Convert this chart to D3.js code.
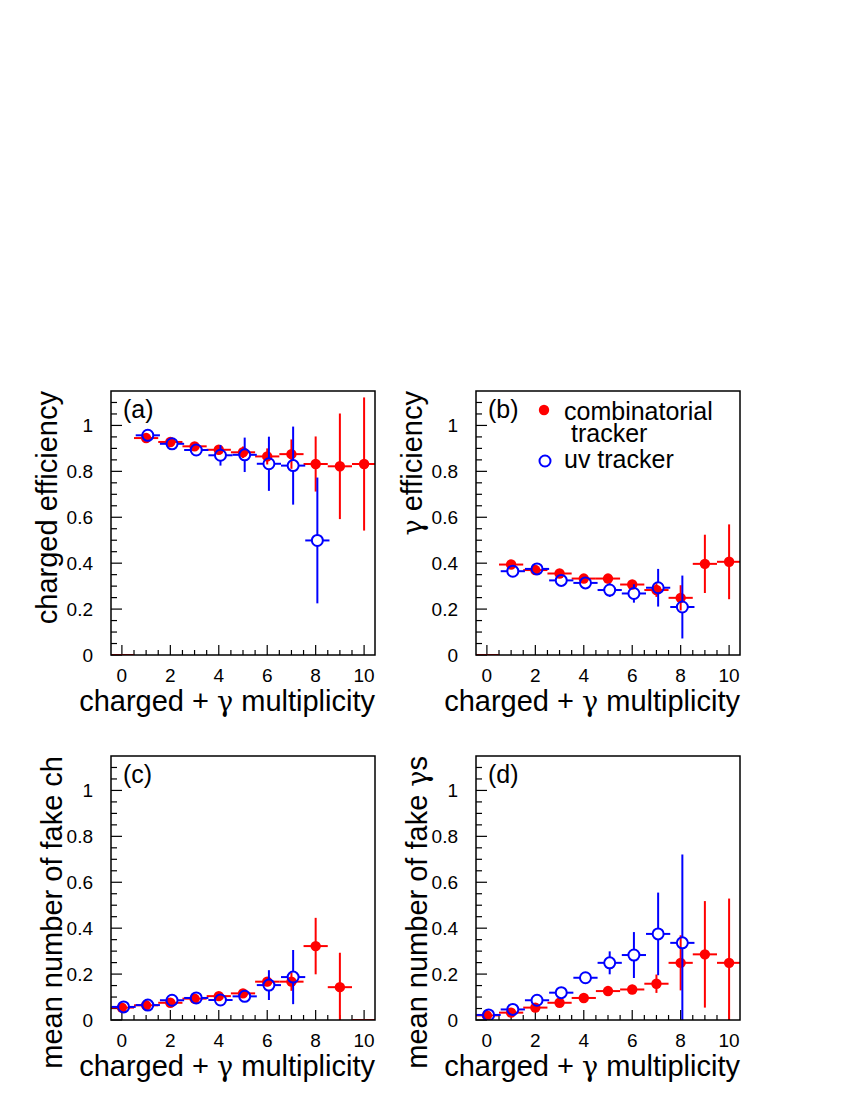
<!DOCTYPE html>
<html><head><meta charset="utf-8">
<script src="https://cdn.jsdelivr.net/npm/d3@7"></script>
<style>
body{margin:0;background:#fff}
text{font-family:"Liberation Sans",Arial,Helvetica,sans-serif;fill:#000}
tspan.greek{font-family:"DejaVu Serif","Liberation Serif",serif}
</style>
</head><body>
<svg id="chart" width="850" height="1100"></svg>
<script>
// ---- data ----
const multAll = [0,1,2,3,4,5,6,7,8,9,10];
const xTickLabels = ["0","2","4","6","8","10"];
const yTickLabels = ["0","0.2","0.4","0.6","0.8","1"];

// (a) charged efficiency
const aCombX = multAll;
const aCombY = [0,0.945,0.928,0.909,0.894,0.883,0.865,0.875,0.832,0.822,0.832];
const aCombE = [0,0.01,0.01,0.015,0.02,0.025,0.035,0.064,0.12,0.23,0.29];
const aUvX = [1,2,3,4,5,6,7,8];
const aUvY = [0.957,0.920,0.893,0.870,0.872,0.833,0.825,0.499];
const aUvE = [0.01,0.015,0.025,0.045,0.075,0.118,0.17,0.274];

// (b) gamma efficiency
const bCombX = multAll;
const bCombY = [0,0.394,0.370,0.355,0.333,0.333,0.307,0.283,0.249,0.397,0.406];
const bCombE = [0,0.01,0.01,0.015,0.015,0.02,0.02,0.03,0.055,0.127,0.163];
const bUvX = [1,2,3,4,5,6,7,8];
const bUvY = [0.365,0.375,0.325,0.314,0.283,0.268,0.293,0.209];
const bUvE = [0.01,0.012,0.015,0.02,0.03,0.04,0.082,0.137];

// (c) mean number of fake charged
const cCombX = multAll;
const cCombY = [0.054,0.064,0.075,0.093,0.104,0.116,0.167,0.167,0.322,0.143,0];
const cCombE = [0.005,0.005,0.008,0.01,0.012,0.015,0.02,0.04,0.123,0.15,0];
const cUvX = [0,1,2,3,4,5,6,7];
const cUvY = [0.057,0.065,0.086,0.096,0.087,0.103,0.152,0.187];
const cUvE = [0.005,0.008,0.01,0.012,0.015,0.02,0.065,0.118];

// (d) mean number of fake gammas
const dCombX = multAll;
const dCombY = [0.020,0.032,0.054,0.075,0.096,0.126,0.133,0.158,0.249,0.286,0.249];
const dCombE = [0.005,0.008,0.012,0.015,0.015,0.015,0.02,0.04,0.12,0.232,0.28];
const dUvX = [0,1,2,3,4,5,6,7,8];
const dUvY = [0.022,0.046,0.086,0.119,0.184,0.249,0.283,0.375,0.336];
const dUvE = [0.005,0.008,0.012,0.015,0.02,0.05,0.1,0.18,0.385];

const legendLabels = ["combinatorial", "tracker", "uv tracker"];
// titles as [text, isGreek] pieces
const xTitle = [["charged + ",0],["\u03b3",1],[" multiplicity",0]];

const panels = [
  {tag:"(a)", left:111, top:391, ytitle:[["charged efficiency",0]],
   comb:[aCombX,aCombY,aCombE], uv:[aUvX,aUvY,aUvE], legend:false},
  {tag:"(b)", left:476, top:391, ytitle:[["\u03b3",1],[" efficiency",0]],
   comb:[bCombX,bCombY,bCombE], uv:[bUvX,bUvY,bUvE], legend:true},
  {tag:"(c)", left:111, top:756, ytitle:[["mean number of fake ch",0]],
   comb:[cCombX,cCombY,cCombE], uv:[cUvX,cUvY,cUvE], legend:false},
  {tag:"(d)", left:476, top:756, ytitle:[["mean number of fake ",0],["\u03b3",1],["s",0]],
   comb:[dCombX,dCombY,dCombE], uv:[dUvX,dUvY,dUvE], legend:false}
];

const W = 264, H = 264;
const RED = "#ff0000", BLUE = "#0000ff";
const svg = d3.select("#chart");

function addPieces(t, pieces) {
  pieces.forEach(([s, gk]) => {
    const ts = t.append("tspan").text(s);
    if (gk) ts.attr("class", "greek").style("font-family", "'DejaVu Serif', serif").style("font-size", "27px");
  });
}

panels.forEach((p, i) => {
  const g = svg.append("g").attr("transform", `translate(${p.left},${p.top})`);
  const x = d3.scaleLinear().domain([-0.45, 10.45]).range([0, W]);
  const y = d3.scaleLinear().domain([0, 1.15]).range([H, 0]);

  const clipId = "clip" + i;
  g.append("clipPath").attr("id", clipId).append("rect")
    .attr("x", 0).attr("y", 0).attr("width", W).attr("height", H);

  // ticks (inside frame, left and bottom)
  const xMinor = d3.range(0, 10.001, 0.5);
  const yMinor = d3.range(0, 1.1001, 0.05);
  g.selectAll(".xt").data(xMinor).enter().append("line")
    .attr("x1", d => x(d)).attr("x2", d => x(d))
    .attr("y1", H).attr("y2", d => H - (Math.abs(d % 2) < 1e-6 ? 10 : 5))
    .attr("stroke", "#000").attr("stroke-width", 1.2);
  g.selectAll(".yt").data(yMinor).enter().append("line")
    .attr("y1", d => y(d)).attr("y2", d => y(d))
    .attr("x1", 0).attr("x2", (d) => (Math.abs(Math.round(d*100) % 20) === 0 ? 11 : 6))
    .attr("stroke", "#000").attr("stroke-width", 1.2);

  // tick labels
  xTickLabels.forEach(t => {
    g.append("text").attr("x", x(+t)).attr("y", H + 27)
      .attr("text-anchor", "middle").style("font-size", "19px").text(t);
  });
  yTickLabels.forEach(t => {
    g.append("text").attr("x", -18).attr("y", y(+t) + 7)
      .attr("text-anchor", "end").style("font-size", "19px").text(t);
  });

  // axis titles
  const xt = g.append("text").attr("x", W).attr("y", H + 56)
    .attr("text-anchor", "end").style("font-size", "29px");
  addPieces(xt, xTitle);
  const ybase = i < 2 ? -54 : -49;
  const yt = g.append("text").attr("transform", `translate(${ybase},0) rotate(-90)`)
    .attr("text-anchor", "end").style("font-size", "29px");
  addPieces(yt, p.ytitle);

  const plot = g.append("g").attr("clip-path", `url(#${clipId})`);

  // combinatorial (red, filled)
  const [cx, cy, ce] = p.comb;
  cx.forEach((xv, k) => {
    const v = cy[k], e = ce[k];
    plot.append("line").attr("x1", x(xv - 0.5)).attr("x2", x(xv + 0.5))
      .attr("y1", y(v)).attr("y2", y(v)).attr("stroke", RED).attr("stroke-width", 2);
    if (v > 0) {
      plot.append("line").attr("x1", x(xv)).attr("x2", x(xv))
        .attr("y1", y(v + e)).attr("y2", y(v - e)).attr("stroke", RED).attr("stroke-width", 2);
      plot.append("circle").attr("cx", x(xv)).attr("cy", y(v)).attr("r", 5.2).attr("fill", RED);
    }
  });

  // uv tracker (blue, open)
  const [ux, uy, ue] = p.uv;
  const off = 0.07, r = 5.5;
  ux.forEach((xv, k) => {
    const v = uy[k], e = ue[k];
    const px = x(xv + off), py = y(v);
    const segs = [
      [x(xv + off - 0.5), py, px - r, py],
      [px + r, py, x(xv + off + 0.5), py]
    ];
    if (y(v - e) - py > r) {
      segs.push([px, y(v + e), px, py - r]);
      segs.push([px, py + r, px, y(v - e)]);
    }
    segs.forEach(s => plot.append("line").attr("x1", s[0]).attr("y1", s[1])
      .attr("x2", s[2]).attr("y2", s[3]).attr("stroke", BLUE).attr("stroke-width", 2));
    plot.append("circle").attr("cx", px).attr("cy", py).attr("r", r)
      .attr("fill", "none").attr("stroke", BLUE).attr("stroke-width", 2);
  });

  // frame
  g.append("rect").attr("x", 0).attr("y", 0).attr("width", W).attr("height", H)
    .attr("fill", "none").attr("stroke", "#000").attr("stroke-width", 1.5);

  // panel tag
  g.append("text").attr("x", 12).attr("y", 27).style("font-size", "25px").text(p.tag);

  // legend
  if (p.legend) {
    g.append("circle").attr("cx", 68).attr("cy", 19).attr("r", 5.2).attr("fill", RED);
    g.append("text").attr("x", 88).attr("y", 29).style("font-size", "25px").text(legendLabels[0]);
    g.append("text").attr("x", 95).attr("y", 51).style("font-size", "25px").text(legendLabels[1]);
    g.append("circle").attr("cx", 69).attr("cy", 70).attr("r", 5.5)
      .attr("fill", "none").attr("stroke", BLUE).attr("stroke-width", 2);
    g.append("text").attr("x", 88).attr("y", 77).style("font-size", "25px").text(legendLabels[2]);
  }
});
</script>
</body></html>
